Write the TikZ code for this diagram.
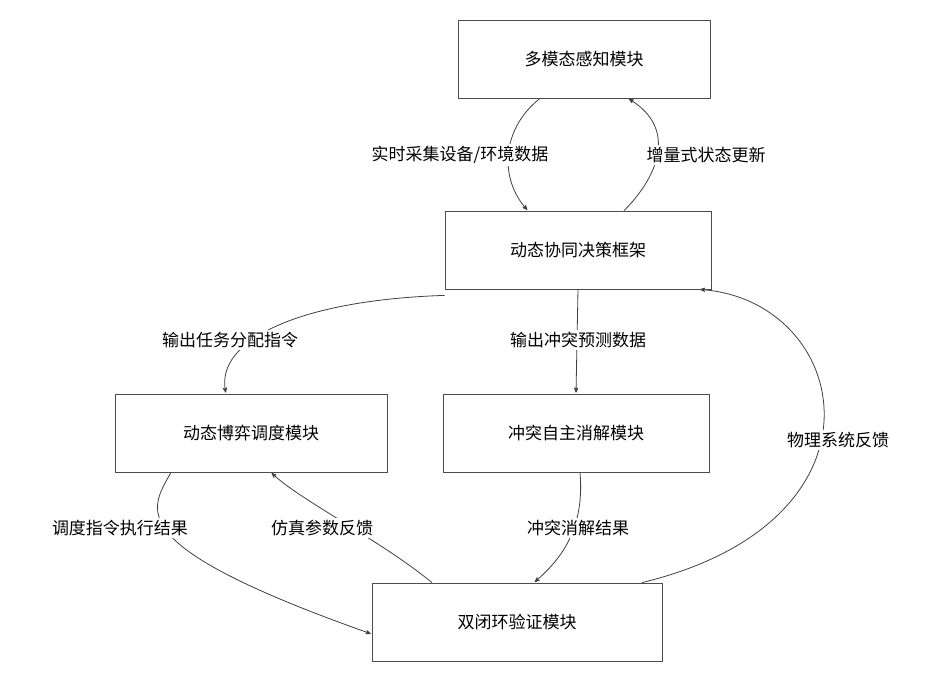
\documentclass[tikz,border=0pt]{standalone}
\usepackage{fontspec}
\setmainfont{Noto Sans CJK SC}
\usetikzlibrary{arrows,positioning}
\begin{document}
\begin{tikzpicture}[x=1pt,y=-1pt,
		module/.style = {draw=black!70,line width=0.8pt,minimum width=#1,minimum height=78pt,font=\fontsize{17}{19}\selectfont},
		module/.default = 266pt,
		lbl/.style = {fill=white,inner sep=2pt,font=\fontsize{17}{19}\selectfont},
		> = stealth',
		conn/.style = {->,draw=black!75,line width=0.8pt,shorten >=1pt}
		]
		\useasboundingbox (0,0) rectangle (930,685);
		% modules
		\node[module=252pt] at (584,59) (sense) {多模态感知模块};
		\node[module] at (578,250) (decide) {动态协同决策框架};
		\node[module=272pt] at (251,433) (sched) {动态博弈调度模块};
		\node[module] at (576,433) (resolve) {冲突自主消解模块};
		\node[module=290pt] at (517,622) (verify) {双闭环验证模块};
		% connectors
		\draw[conn] ([xshift=-44pt]sense.south) .. controls (500,130) and (500,180) .. ([xshift=-50pt]decide.north);
		\draw[conn] ([xshift=46pt]decide.north) .. controls (655,180) and (680,130) .. ([xshift=44pt]sense.south);
		\draw[conn] ([yshift=-6pt]decide.south west) .. controls (300,300) and (215,340) .. ([xshift=-25pt]sched.north);
		\draw[conn] (decide.south) -- (resolve.north);
		\draw[conn] ([xshift=4pt]resolve.south) .. controls (585,530) and (560,560) .. ([xshift=17pt]verify.north);
		\draw[conn] ([xshift=-80pt]sched.south) .. controls (150,510) and (120,545) .. ([yshift=-12pt]verify.west);
		\draw[conn] ([xshift=-85pt]verify.north) .. controls (380,540) and (300,500) .. ([xshift=20pt]sched.south);
		\draw[conn] ([xshift=125pt]verify.north) .. controls (900,520) and (850,300) .. ([xshift=121pt]decide.south);
		% labels
		\node[lbl] at (460,155) (datacollect) {实时采集设备/环境数据};
		\node[lbl] at (706,155) (stateupdate) {增量式状态更新};
		\node[lbl] at (230,340) (taskassign) {输出任务分配指令};
		\node[lbl] at (578,340) (conflictpred) {输出冲突预测数据};
		\node[lbl] at (578,528) (resolveres) {冲突消解结果};
		\node[lbl] at (120,528) (schedres) {调度指令执行结果};
		\node[lbl] at (322,528) (simfeed) {仿真参数反馈};
		\node[lbl] at (838,440) (physfeed) {物理系统反馈};
\end{tikzpicture}
\end{document}
